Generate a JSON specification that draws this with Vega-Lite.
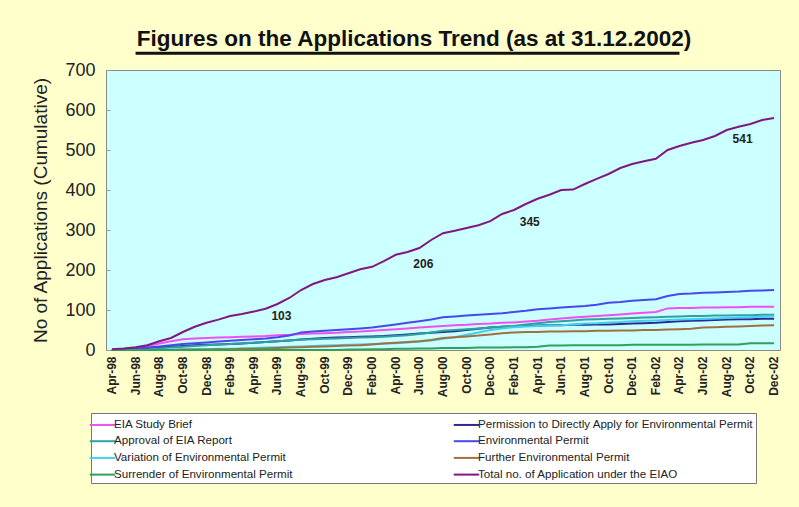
{
  "$schema": "https://vega.github.io/schema/vega-lite/v6.json",
  "width": 674,
  "height": 280,
  "autosize": {"type": "none"},
  "padding": {"left": 106, "top": 70, "right": 19, "bottom": 157},
  "background": "#FFFFCC",
  "config": {
    "view": {"fill": "#CCFFFF", "stroke": "#8a8a8a", "strokeWidth": 1},
    "font": "Liberation Sans",
    "axis": {"labelOverlap": false},
    "axisY": {"labelOverlap": false},
    "axisQuantitative": {"labelOverlap": false}
  },
  "title": {
    "text": "Figures on the Applications Trend (as at 31.12.2002)",
    "font": "Liberation Sans",
    "fontSize": 22.5,
    "fontWeight": "bold",
    "color": "#111111",
    "anchor": "middle",
    "frame": "group",
    "dx": -29,
    "offset": 1
  },
  "datasets": {
    "series": [
      {"m": "Apr-98", "brief": 0, "permission": 0, "approval": 0, "ep": 0, "variation": 0, "further": 0, "surrender": 0, "total": 2},
      {"m": "May-98", "brief": 2, "permission": 1, "approval": 0, "ep": 1, "variation": 0, "further": 0, "surrender": 0, "total": 4},
      {"m": "Jun-98", "brief": 5, "permission": 2, "approval": 1, "ep": 3, "variation": 0, "further": 0, "surrender": 0, "total": 7},
      {"m": "Jul-98", "brief": 10, "permission": 4, "approval": 2, "ep": 6, "variation": 0, "further": 0, "surrender": 0, "total": 12},
      {"m": "Aug-98", "brief": 16, "permission": 6, "approval": 4, "ep": 9, "variation": 0, "further": 0, "surrender": 0, "total": 22},
      {"m": "Sep-98", "brief": 22, "permission": 8, "approval": 6, "ep": 12, "variation": 1, "further": 0, "surrender": 0, "total": 30},
      {"m": "Oct-98", "brief": 27, "permission": 10, "approval": 8, "ep": 15, "variation": 1, "further": 1, "surrender": 0, "total": 45},
      {"m": "Nov-98", "brief": 29, "permission": 12, "approval": 10, "ep": 17, "variation": 2, "further": 1, "surrender": 0, "total": 58},
      {"m": "Dec-98", "brief": 30, "permission": 13, "approval": 12, "ep": 19, "variation": 2, "further": 1, "surrender": 0, "total": 68},
      {"m": "Jan-99", "brief": 31, "permission": 14, "approval": 14, "ep": 21, "variation": 3, "further": 2, "surrender": 0, "total": 76},
      {"m": "Feb-99", "brief": 32, "permission": 15, "approval": 15, "ep": 23, "variation": 3, "further": 2, "surrender": 0, "total": 85},
      {"m": "Mar-99", "brief": 33, "permission": 16, "approval": 17, "ep": 25, "variation": 4, "further": 3, "surrender": 0, "total": 90},
      {"m": "Apr-99", "brief": 34, "permission": 18, "approval": 18, "ep": 27, "variation": 5, "further": 3, "surrender": 0, "total": 96},
      {"m": "May-99", "brief": 35, "permission": 20, "approval": 20, "ep": 29, "variation": 6, "further": 4, "surrender": 0, "total": 103},
      {"m": "Jun-99", "brief": 37, "permission": 22, "approval": 22, "ep": 32, "variation": 7, "further": 5, "surrender": 0, "total": 115},
      {"m": "Jul-99", "brief": 38, "permission": 24, "approval": 24, "ep": 36, "variation": 8, "further": 6, "surrender": 0, "total": 130},
      {"m": "Aug-99", "brief": 40, "permission": 26, "approval": 26, "ep": 44, "variation": 9, "further": 7, "surrender": 0, "total": 150},
      {"m": "Sep-99", "brief": 41, "permission": 28, "approval": 27, "ep": 46, "variation": 10, "further": 8, "surrender": 0, "total": 165},
      {"m": "Oct-99", "brief": 42, "permission": 30, "approval": 28, "ep": 48, "variation": 11, "further": 9, "surrender": 0, "total": 175},
      {"m": "Nov-99", "brief": 43, "permission": 31, "approval": 29, "ep": 50, "variation": 12, "further": 10, "surrender": 0, "total": 182},
      {"m": "Dec-99", "brief": 45, "permission": 32, "approval": 30, "ep": 52, "variation": 13, "further": 11, "surrender": 1, "total": 192},
      {"m": "Jan-00", "brief": 46, "permission": 33, "approval": 31, "ep": 54, "variation": 14, "further": 12, "surrender": 1, "total": 202},
      {"m": "Feb-00", "brief": 48, "permission": 34, "approval": 32, "ep": 56, "variation": 15, "further": 14, "surrender": 2, "total": 208},
      {"m": "Mar-00", "brief": 50, "permission": 35, "approval": 33, "ep": 60, "variation": 16, "further": 16, "surrender": 2, "total": 222},
      {"m": "Apr-00", "brief": 52, "permission": 37, "approval": 35, "ep": 64, "variation": 17, "further": 18, "surrender": 3, "total": 238},
      {"m": "May-00", "brief": 54, "permission": 39, "approval": 37, "ep": 68, "variation": 19, "further": 20, "surrender": 3, "total": 245},
      {"m": "Jun-00", "brief": 56, "permission": 41, "approval": 40, "ep": 72, "variation": 21, "further": 22, "surrender": 4, "total": 255},
      {"m": "Jul-00", "brief": 58, "permission": 43, "approval": 44, "ep": 76, "variation": 24, "further": 25, "surrender": 4, "total": 275},
      {"m": "Aug-00", "brief": 60, "permission": 45, "approval": 48, "ep": 82, "variation": 28, "further": 30, "surrender": 5, "total": 292},
      {"m": "Sep-00", "brief": 62, "permission": 47, "approval": 50, "ep": 84, "variation": 32, "further": 32, "surrender": 5, "total": 298},
      {"m": "Oct-00", "brief": 63, "permission": 50, "approval": 52, "ep": 86, "variation": 38, "further": 34, "surrender": 5, "total": 305},
      {"m": "Nov-00", "brief": 65, "permission": 53, "approval": 54, "ep": 88, "variation": 44, "further": 36, "surrender": 6, "total": 312},
      {"m": "Dec-00", "brief": 66, "permission": 56, "approval": 56, "ep": 90, "variation": 50, "further": 39, "surrender": 6, "total": 322},
      {"m": "Jan-01", "brief": 68, "permission": 58, "approval": 58, "ep": 92, "variation": 54, "further": 42, "surrender": 6, "total": 340},
      {"m": "Feb-01", "brief": 69, "permission": 59, "approval": 60, "ep": 95, "variation": 57, "further": 44, "surrender": 7, "total": 350},
      {"m": "Mar-01", "brief": 71, "permission": 60, "approval": 64, "ep": 98, "variation": 59, "further": 45, "surrender": 7, "total": 365},
      {"m": "Apr-01", "brief": 73, "permission": 61, "approval": 67, "ep": 102, "variation": 60, "further": 45, "surrender": 8, "total": 378},
      {"m": "May-01", "brief": 76, "permission": 62, "approval": 70, "ep": 104, "variation": 61, "further": 46, "surrender": 11, "total": 388},
      {"m": "Jun-01", "brief": 79, "permission": 62, "approval": 72, "ep": 106, "variation": 62, "further": 46, "surrender": 11, "total": 400},
      {"m": "Jul-01", "brief": 81, "permission": 63, "approval": 74, "ep": 108, "variation": 64, "further": 47, "surrender": 12, "total": 401},
      {"m": "Aug-01", "brief": 83, "permission": 63, "approval": 76, "ep": 110, "variation": 66, "further": 47, "surrender": 12, "total": 415},
      {"m": "Sep-01", "brief": 85, "permission": 64, "approval": 77, "ep": 113, "variation": 67, "further": 48, "surrender": 12, "total": 428},
      {"m": "Oct-01", "brief": 87, "permission": 64, "approval": 78, "ep": 118, "variation": 69, "further": 48, "surrender": 12, "total": 440},
      {"m": "Nov-01", "brief": 89, "permission": 65, "approval": 79, "ep": 120, "variation": 70, "further": 49, "surrender": 12, "total": 455},
      {"m": "Dec-01", "brief": 91, "permission": 66, "approval": 80, "ep": 123, "variation": 72, "further": 49, "surrender": 13, "total": 465},
      {"m": "Jan-02", "brief": 93, "permission": 67, "approval": 81, "ep": 125, "variation": 73, "further": 50, "surrender": 13, "total": 472},
      {"m": "Feb-02", "brief": 95, "permission": 68, "approval": 82, "ep": 127, "variation": 74, "further": 50, "surrender": 13, "total": 478},
      {"m": "Mar-02", "brief": 104, "permission": 70, "approval": 83, "ep": 135, "variation": 75, "further": 51, "surrender": 13, "total": 500},
      {"m": "Apr-02", "brief": 105, "permission": 72, "approval": 84, "ep": 140, "variation": 76, "further": 52, "surrender": 13, "total": 510},
      {"m": "May-02", "brief": 105, "permission": 73, "approval": 85, "ep": 141, "variation": 77, "further": 53, "surrender": 13, "total": 518},
      {"m": "Jun-02", "brief": 106, "permission": 74, "approval": 85, "ep": 143, "variation": 78, "further": 56, "surrender": 14, "total": 525},
      {"m": "Jul-02", "brief": 106, "permission": 75, "approval": 86, "ep": 144, "variation": 79, "further": 57, "surrender": 14, "total": 535},
      {"m": "Aug-02", "brief": 107, "permission": 76, "approval": 86, "ep": 145, "variation": 80, "further": 58, "surrender": 14, "total": 550},
      {"m": "Sep-02", "brief": 107, "permission": 77, "approval": 87, "ep": 146, "variation": 81, "further": 59, "surrender": 14, "total": 558},
      {"m": "Oct-02", "brief": 108, "permission": 77, "approval": 87, "ep": 148, "variation": 82, "further": 60, "surrender": 17, "total": 565},
      {"m": "Nov-02", "brief": 108, "permission": 78, "approval": 88, "ep": 149, "variation": 83, "further": 61, "surrender": 17, "total": 575},
      {"m": "Dec-02", "brief": 108, "permission": 78, "approval": 88, "ep": 150, "variation": 84, "further": 62, "surrender": 17, "total": 580}
    ],
    "names": [
      {"k": "brief", "name": "EIA Study Brief"},
      {"k": "permission", "name": "Permission to Directly Apply for Environmental Permit"},
      {"k": "approval", "name": "Approval of EIA Report"},
      {"k": "ep", "name": "Environmental Permit"},
      {"k": "variation", "name": "Variation of Environmental Permit"},
      {"k": "further", "name": "Further Environmental Permit"},
      {"k": "surrender", "name": "Surrender of Environmental Permit"},
      {"k": "total", "name": "Total no. of Application under the EIAO"}
    ],
    "notes": [
      {"m": "Jun-99", "value": 86, "t": "103"},
      {"m": "Jun-00", "value": 215, "t": "206"},
      {"m": "Mar-01", "value": 321, "t": "345"},
      {"m": "Sep-02", "value": 527, "t": "541"}
    ],
    "underline": [
      {"m1": "Jun-98", "m2": "Apr-02", "value": 742}
    ]
  },
  "encoding": {
    "x": {
      "field": "m",
      "type": "ordinal",
      "sort": null,
      "scale": {"type": "band", "paddingInner": 0, "paddingOuter": 0},
      "axis": {
        "title": null,
        "values": ["Apr-98","Jun-98","Aug-98","Oct-98","Dec-98","Feb-99","Apr-99","Jun-99","Aug-99","Oct-99","Dec-99","Feb-00","Apr-00","Jun-00","Aug-00","Oct-00","Dec-00","Feb-01","Apr-01","Jun-01","Aug-01","Oct-01","Dec-01","Feb-02","Apr-02","Jun-02","Aug-02","Oct-02","Dec-02"],
        "labelAngle": -90,
        "labelFontSize": 12,
        "labelFontWeight": "bold",
        "labelColor": "#222222",
        "labelPadding": 6,
        "labelOverlap": false,
        "ticks": false,
        "domain": false
      }
    },
    "y": {
      "field": "value",
      "type": "quantitative",
      "scale": {"domain": [0, 700], "nice": false},
      "axis": {
        "title": "No of Applications (Cumulative)",
        "titleFontSize": 19,
        "titleFontWeight": "normal",
        "titleColor": "#222222",
        "titlePadding": 14,
        "values": [0, 100, 200, 300, 400, 500, 600, 700],
        "labelFontSize": 18,
        "labelColor": "#222222",
        "labelOverlap": false,
        "grid": false,
        "domain": false,
        "tickSize": -4,
        "tickColor": "#999999",
        "labelPadding": 15
      }
    }
  },
  "layer": [
    {
      "data": {"name": "series"},
      "transform": [
        {"fold": ["brief", "permission", "approval", "ep", "variation", "further", "surrender", "total"], "as": ["k", "value"]},
        {"lookup": "k", "from": {"data": {"name": "names"}, "key": "k", "fields": ["name"]}}
      ],
      "mark": {"type": "line", "interpolate": "linear"},
      "encoding": {
        "color": {
          "field": "name",
          "type": "nominal",
          "scale": {
            "domain": ["EIA Study Brief", "Approval of EIA Report", "Variation of Environmental Permit", "Surrender of Environmental Permit", "Permission to Directly Apply for Environmental Permit", "Environmental Permit", "Further Environmental Permit", "Total no. of Application under the EIAO"],
            "range": ["#F050F0", "#30A0A0", "#40D0F0", "#30A060", "#2A2A90", "#4848F0", "#A07040", "#801880"]
          },
          "legend": {
            "title": null,
            "orient": "none",
            "legendX": -15,
            "legendY": 343,
            "columns": 2,
            "columnPadding": 156,
            "rowPadding": 0.7,
            "padding": 2,
            "fillColor": "#FFFFFF",
            "strokeColor": "#777777",
            "labelFontSize": 11.6,
            "labelLimit": 400,
            "labelColor": "#222222",
            "symbolType": "M-1.5,0H1.5",
            "symbolSize": 289,
            "symbolStrokeWidth": 2,
            "labelOffset": 2
          }
        },
        "strokeWidth": {
          "field": "k",
          "type": "nominal",
          "scale": {"domain": ["brief", "permission", "approval", "ep", "variation", "further", "surrender", "total"], "range": [2, 2, 2, 2, 2, 2, 2, 3]},
          "legend": null
        },
        "order": {"value": null}
      }
    },
    {
      "data": {"name": "notes"},
      "mark": {"type": "text", "fontSize": 12, "fontWeight": "bold", "color": "#222222", "dx": 4},
      "encoding": {
        "text": {"field": "t"}
      }
    },
    {
      "data": {"name": "underline"},
      "mark": {"type": "rule", "color": "#111111", "strokeWidth": 3},
      "encoding": {
        "x": {"field": "m1", "type": "ordinal", "sort": null},
        "x2": {"field": "m2"}
      }
    }
  ]
}
